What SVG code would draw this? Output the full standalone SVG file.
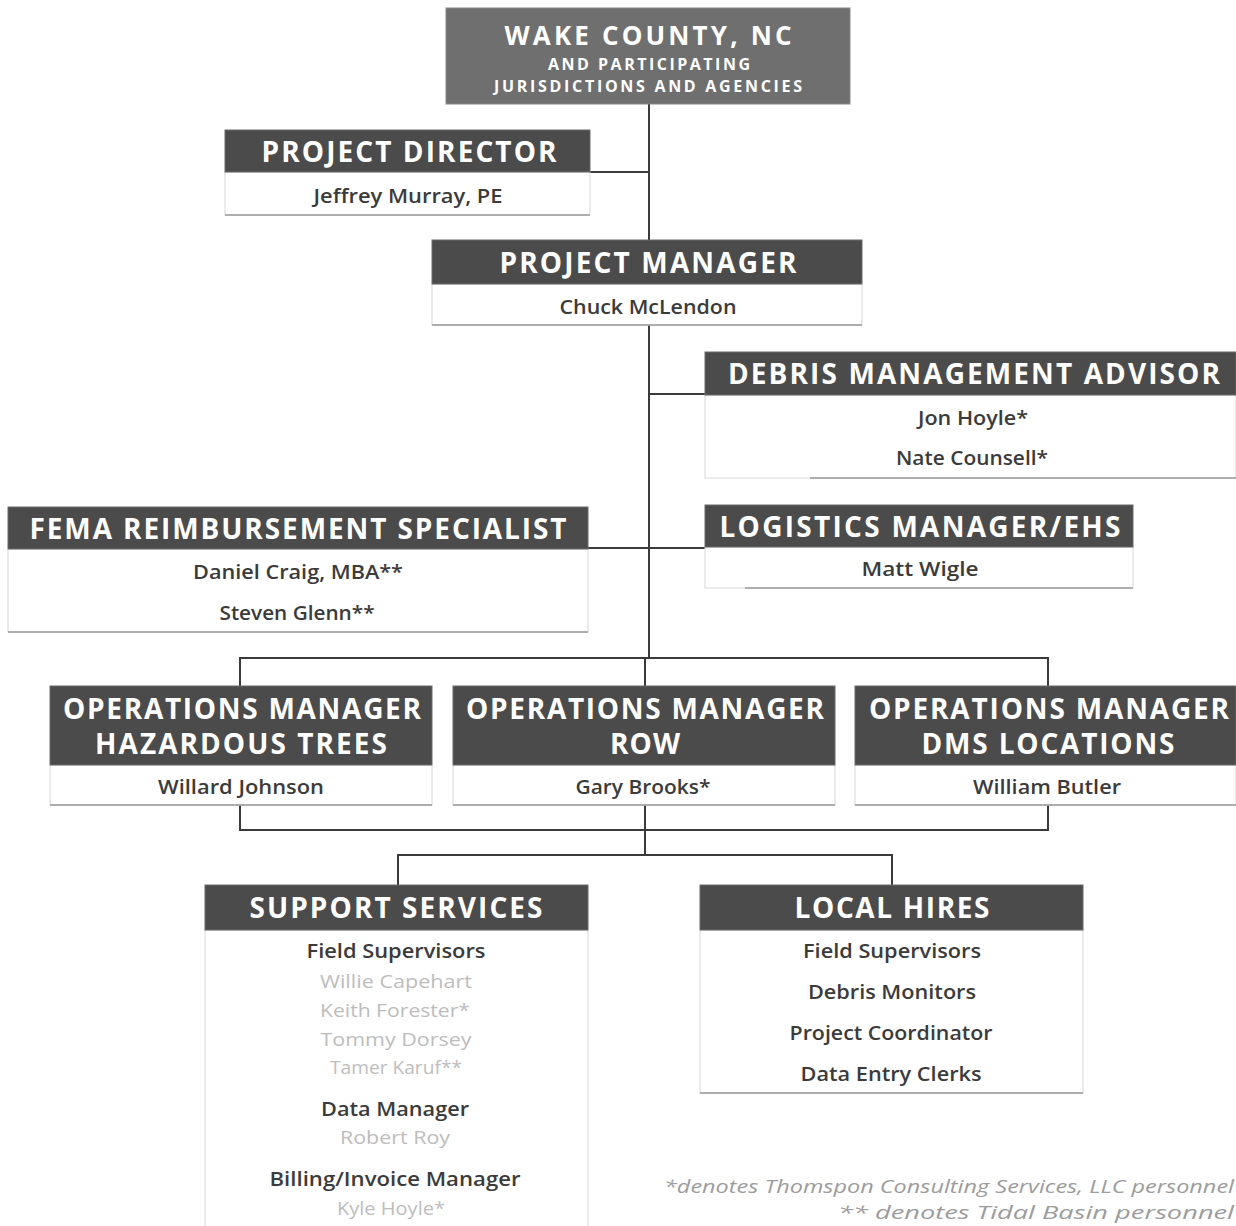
<svg xmlns="http://www.w3.org/2000/svg" width="1236" height="1226" viewBox="0 0 1236 1226">
<style>
.hd{fill:#4b4b4b;stroke:#6a6a6a;stroke-width:1}
.top{fill:#6f6f6f;stroke:#888;stroke-width:1}
.bd{fill:#fff;stroke:#d8d8d8;stroke-width:1}
.bl{stroke:#9a9a9a;stroke-width:1.5;fill:none}
.ht{font-family:"Open Sans","DejaVu Sans",sans-serif;font-weight:700;fill:#fff;text-anchor:middle;font-size:28px}
.t1{font-size:26px}
.t2{font-size:16px}
.nm{font-family:"Open Sans","DejaVu Sans",sans-serif;font-weight:600;fill:#3b3b3b;text-anchor:middle;font-size:20px}
.fn{font-family:"Open Sans","DejaVu Sans",sans-serif;font-weight:400;fill:#bdbdbd;text-anchor:middle;font-size:18px}
.ft{font-family:"Open Sans","DejaVu Sans",sans-serif;font-style:italic;font-weight:400;fill:#9c9c9c;text-anchor:end;font-size:19px}
.cn{stroke:#3a3a3a;stroke-width:2;fill:none}
</style>
<rect width="1236" height="1226" fill="#fff"/>
<g id="connectors">
<path class="cn" d="M649 104 V658"/>
<path class="cn" d="M590 172 H649"/>
<path class="cn" d="M649 394 H705"/>
<path class="cn" d="M588 548 H705"/>
<path class="cn" d="M240 686 V658 H1048 V686"/>
<path class="cn" d="M645 658 V686"/>
<path class="cn" d="M240 805 V830 H1048 V805"/>
<path class="cn" d="M645 805 V855"/>
<path class="cn" d="M398 885 V855 H892 V885"/>
</g>
<g id="wake-county">
<rect class="top" x="446" y="8" width="404" height="96"/>
<text class="ht t1" x="648" y="45" textLength="287" lengthAdjust="spacing">WAKE COUNTY, NC</text>
<text class="ht t2" x="649" y="70" textLength="202" lengthAdjust="spacing">AND PARTICIPATING</text>
<text class="ht t2" x="648" y="92" textLength="308" lengthAdjust="spacing">JURISDICTIONS AND AGENCIES</text>
</g>
<g id="project-director">
<rect class="bd" x="225" y="172" width="365" height="43"/>
<path class="bl" d="M225 215 H590"/>
<rect class="hd" x="225" y="130" width="365" height="42"/>
<text class="ht" x="409" y="162" textLength="295" lengthAdjust="spacing">PROJECT DIRECTOR</text>
<text class="nm" x="408" y="203" textLength="189" lengthAdjust="spacingAndGlyphs">Jeffrey Murray, PE</text>
</g>
<g id="project-manager">
<rect class="bd" x="432" y="284" width="430" height="41"/>
<path class="bl" d="M432 325 H862"/>
<rect class="hd" x="432" y="240" width="430" height="44"/>
<text class="ht" x="648" y="273" textLength="297" lengthAdjust="spacing">PROJECT MANAGER</text>
<text class="nm" x="648" y="314" textLength="177" lengthAdjust="spacingAndGlyphs">Chuck McLendon</text>
</g>
<g id="debris-management-advisor">
<rect class="bd" x="705" y="395" width="531" height="83"/>
<path class="bl" d="M810 478 H1236"/>
<rect class="hd" x="705" y="352" width="531" height="43"/>
<text class="ht" x="974" y="384" textLength="492" lengthAdjust="spacing">DEBRIS MANAGEMENT ADVISOR</text>
<text class="nm" x="973" y="425" textLength="110" lengthAdjust="spacingAndGlyphs">Jon Hoyle*</text>
<text class="nm" x="972" y="465" textLength="152" lengthAdjust="spacingAndGlyphs">Nate Counsell*</text>
</g>
<g id="fema-reimbursement-specialist">
<rect class="bd" x="8" y="549" width="580" height="83"/>
<path class="bl" d="M8 632 H588"/>
<rect class="hd" x="8" y="507" width="580" height="42"/>
<text class="ht" x="298" y="539" textLength="537" lengthAdjust="spacing">FEMA REIMBURSEMENT SPECIALIST</text>
<text class="nm" x="298" y="579" textLength="210" lengthAdjust="spacingAndGlyphs">Daniel Craig, MBA**</text>
<text class="nm" x="297" y="620" textLength="155" lengthAdjust="spacingAndGlyphs">Steven Glenn**</text>
</g>
<g id="logistics-manager">
<rect class="bd" x="705" y="547" width="428" height="41"/>
<path class="bl" d="M745 588 H1133"/>
<rect class="hd" x="705" y="505" width="428" height="42"/>
<text class="ht" x="920" y="537" textLength="401" lengthAdjust="spacing">LOGISTICS MANAGER/EHS</text>
<text class="nm" x="920" y="576" textLength="117" lengthAdjust="spacingAndGlyphs">Matt Wigle</text>
</g>
<g id="ops-hazardous-trees">
<rect class="bd" x="50" y="765" width="382" height="40"/>
<path class="bl" d="M50 805 H432"/>
<rect class="hd" x="50" y="686" width="382" height="79"/>
<text class="ht" x="242" y="719" textLength="358" lengthAdjust="spacing">OPERATIONS MANAGER</text>
<text class="ht" x="241" y="754" textLength="292" lengthAdjust="spacing">HAZARDOUS TREES</text>
<text class="nm" x="241" y="794" textLength="166" lengthAdjust="spacingAndGlyphs">Willard Johnson</text>
</g>
<g id="ops-row">
<rect class="bd" x="453" y="765" width="382" height="40"/>
<path class="bl" d="M453 805 H835"/>
<rect class="hd" x="453" y="686" width="382" height="79"/>
<text class="ht" x="645" y="719" textLength="358" lengthAdjust="spacing">OPERATIONS MANAGER</text>
<text class="ht" x="645" y="754" textLength="70" lengthAdjust="spacing">ROW</text>
<text class="nm" x="643" y="794" textLength="135" lengthAdjust="spacingAndGlyphs">Gary Brooks*</text>
</g>
<g id="ops-dms-locations">
<rect class="bd" x="855" y="765" width="381" height="40"/>
<path class="bl" d="M855 805 H1236"/>
<rect class="hd" x="855" y="686" width="381" height="79"/>
<text class="ht" x="1049" y="719" textLength="360" lengthAdjust="spacing">OPERATIONS MANAGER</text>
<text class="ht" x="1048" y="754" textLength="253" lengthAdjust="spacing">DMS LOCATIONS</text>
<text class="nm" x="1047" y="794" textLength="148" lengthAdjust="spacingAndGlyphs">William Butler</text>
</g>
<g id="support-services">
<rect class="bd" x="205" y="930" width="383" height="300"/>
<rect class="hd" x="205" y="885" width="383" height="45"/>
<text class="ht" x="396" y="918" textLength="293" lengthAdjust="spacing">SUPPORT SERVICES</text>
<text class="nm" x="396" y="958" textLength="179" lengthAdjust="spacingAndGlyphs">Field Supervisors</text>
<text class="fn" x="396" y="988" textLength="152" lengthAdjust="spacingAndGlyphs">Willie Capehart</text>
<text class="fn" x="395" y="1017" textLength="150" lengthAdjust="spacingAndGlyphs">Keith Forester*</text>
<text class="fn" x="396" y="1046" textLength="151" lengthAdjust="spacingAndGlyphs">Tommy Dorsey</text>
<text class="fn" x="396" y="1074" textLength="132" lengthAdjust="spacingAndGlyphs">Tamer Karuf**</text>
<text class="nm" x="395" y="1116" textLength="148" lengthAdjust="spacingAndGlyphs">Data Manager</text>
<text class="fn" x="395" y="1144" textLength="110" lengthAdjust="spacingAndGlyphs">Robert Roy</text>
<text class="nm" x="395" y="1186" textLength="251" lengthAdjust="spacingAndGlyphs">Billing/Invoice Manager</text>
<text class="fn" x="391" y="1215" textLength="108" lengthAdjust="spacingAndGlyphs">Kyle Hoyle*</text>
</g>
<g id="local-hires">
<rect class="bd" x="700" y="930" width="383" height="163"/>
<path class="bl" d="M700 1093 H1083"/>
<rect class="hd" x="700" y="885" width="383" height="45"/>
<text class="ht" x="892" y="918" textLength="195" lengthAdjust="spacing">LOCAL HIRES</text>
<text class="nm" x="892" y="958" textLength="178" lengthAdjust="spacingAndGlyphs">Field Supervisors</text>
<text class="nm" x="892" y="999" textLength="168" lengthAdjust="spacingAndGlyphs">Debris Monitors</text>
<text class="nm" x="891" y="1040" textLength="203" lengthAdjust="spacingAndGlyphs">Project Coordinator</text>
<text class="nm" x="891" y="1081" textLength="181" lengthAdjust="spacingAndGlyphs">Data Entry Clerks</text>
</g>
<g id="footnotes">
<text class="ft" x="1234" y="1193" textLength="570" lengthAdjust="spacingAndGlyphs">*denotes Thomspon Consulting Services, LLC personnel</text>
<text class="ft" x="1234" y="1219" textLength="396" lengthAdjust="spacingAndGlyphs">** denotes Tidal Basin personnel</text>
</g>
</svg>
